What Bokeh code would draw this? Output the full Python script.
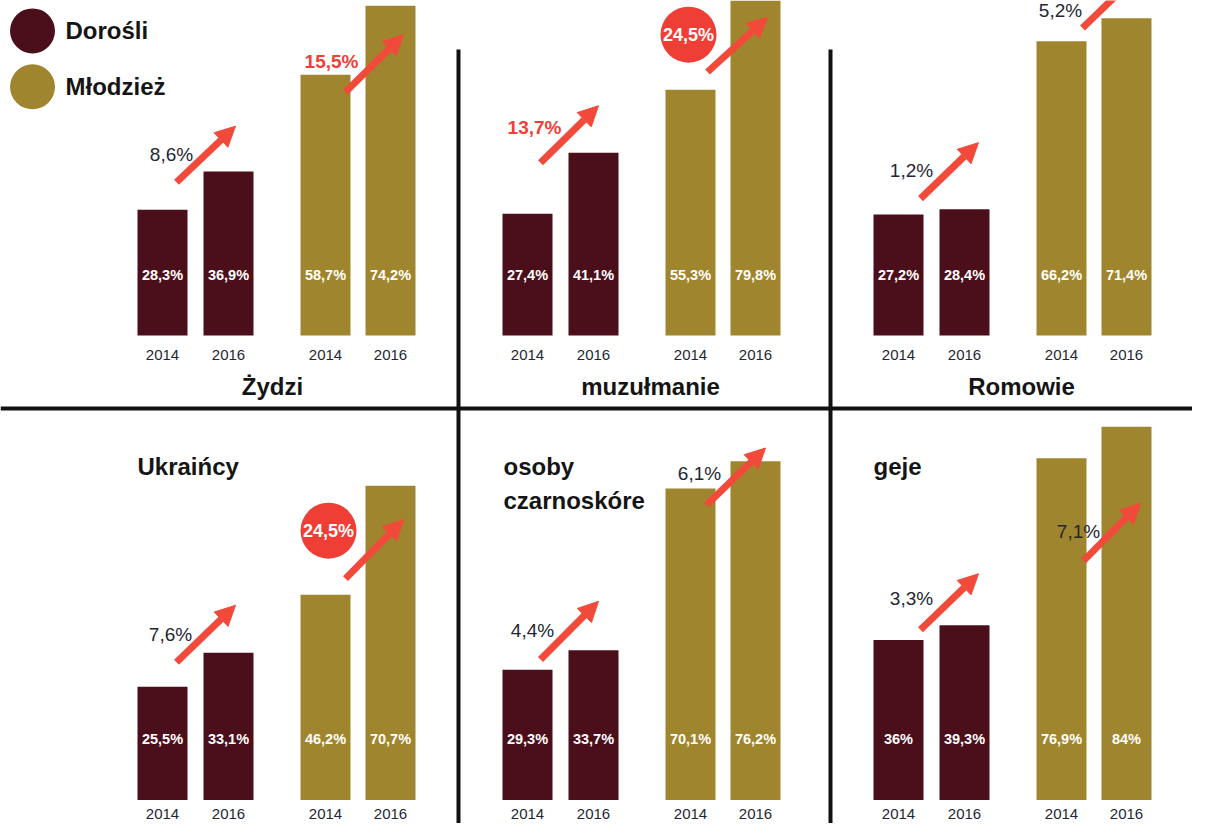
from bokeh.plotting import figure
from bokeh.models import Range1d, ColumnDataSource, Arrow, NormalHead
from bokeh.core.properties import value
from bokeh.embed import file_html
from bokeh.resources import INLINE

# ---------------- data ----------------
categories = ["Żydzi", "muzułmanie", "Romowie", "Ukraińcy", "osoby\nczarnoskóre", "geje"]
years = ["2014", "2016"]
series = ["Dorośli", "Młodzież"]
adults_2014 = [28.3, 27.4, 27.2, 25.5, 29.3, 36.0]
adults_2016 = [36.9, 41.1, 28.4, 33.1, 33.7, 39.3]
youth_2014 = [58.7, 55.3, 66.2, 46.2, 70.1, 76.9]
youth_2016 = [74.2, 79.8, 71.4, 70.7, 76.2, 84.0]
adults_change = ["8,6%", "13,7%", "1,2%", "7,6%", "4,4%", "3,3%"]
youth_change = ["15,5%", "24,5%", "5,2%", "24,5%", "6,1%", "7,1%"]

# ---------------- layout / styles ----------------
MAROON = "#4b0f1b"
GOLD = "#a0852f"
ARROW_C = "#f24a3a"
RED_TXT = "#ee3f39"
BADGE_C = "#ef3e36"
DARK = "#232733"
LINE_C = "#111111"
FONT = "Liberation Sans"

W, H = 1192, 823
PX = 4.53                     # reference pixels per percentage point
BASE_REF = 815                # reference y of bottom-row baseline


def vy(ref_y):
    return (BASE_REF - ref_y) / PX


row_base = [vy(341.5), 0.0]
col_left = [137, 502, 873]
slot_left = [0, 66, 163, 228]
BAR_W = 50
year_dy = [-4.3, -3.1]
value_dy = 13.7

# title placement per panel: (x rel, y rel, align)
title_pos = [(135, -11.4, "center"), (148, -11.4, "center"), (148, -11.4, "center"),
             (0, 75.1, "left"), (1, 75.1, "left"), (0, 75.1, "left")]
TITLE_GAP = 7.8
adult_label = [(34, 40.7), (32, 46.7), (38, 37.2), (33, 37.2), (30, 38.1), (38, 45.4)]
adult_arrow = [(39, 34.5, 98, 47.1), (38, 38.9, 96, 51.7), (47, 30.8, 105, 43.4),
               (39, 31.0, 98, 43.8), (38, 31.6, 96, 44.7), (47, 38.3, 105, 50.9)]
youth_label = [(194, 61.7), (186, 67.7), (187, 73.2), (191, 60.6), (197, 73.5), (205, 60.4)]
youth_arrow = [(208, 54.8, 266, 67.7), (205, 59.3, 265, 71.6), (209, 69.2, 267, 81.8),
               (208, 49.8, 266, 63.1), (204, 66.4, 263, 79.2), (210, 53.8, 267, 66.8)]
adult_style = ["plain", "red", "plain", "plain", "plain", "plain"]
youth_style = ["red", "badge", "plain", "badge", "plain", "plain"]

p = figure(width=W, height=H, x_range=Range1d(0, 1192), y_range=Range1d(vy(839), vy(0)),
           toolbar_location=None, output_backend="svg", min_border=0,
           x_axis_location=None, y_axis_location=None)
p.grid.visible = False
p.outline_line_color = None
p.background_fill_color = "white"
p.border_fill_color = "white"


def fmt(v):
    return f"{v:g}".replace(".", ",") + "%"


bx, bb, bt, bc, vt, vyy = [], [], [], [], [], []
yx, yy, ytxt = [], [], []
for i in range(6):
    row, col = divmod(i, 3)
    vals = [adults_2014[i], adults_2016[i], youth_2014[i], youth_2016[i]]
    cols = [MAROON, MAROON, GOLD, GOLD]
    for k in range(4):
        xc = col_left[col] + slot_left[k] + BAR_W / 2
        bx.append(xc)
        bb.append(row_base[row])
        bt.append(row_base[row] + vals[k])
        bc.append(cols[k])
        vt.append(fmt(vals[k]))
        vyy.append(row_base[row] + value_dy)
        yx.append(xc)
        yy.append(row_base[row] + year_dy[row])
        ytxt.append(years[k % 2])

bars = ColumnDataSource(dict(x=bx, bottom=bb, top=bt, color=bc, label=vt, ly=vyy))
p.vbar(x="x", width=BAR_W, bottom="bottom", top="top", fill_color="color",
       line_color=None, source=bars)
p.text(x="x", y="ly", text="label", source=bars, text_color="white",
       text_font=value(FONT), text_font_style="bold", text_font_size="14.5px",
       text_align="center", text_baseline="middle")
p.text(x=yx, y=yy, text=ytxt, text_color=DARK, text_font=value(FONT),
       text_font_size="15px", text_align="center", text_baseline="middle")

# titles
for i in range(6):
    row, col = divmod(i, 3)
    xr, yr, al = title_pos[i]
    lines = categories[i].split("\n")
    p.text(x=[col_left[col] + xr] * len(lines),
           y=[row_base[row] + yr - j * TITLE_GAP for j in range(len(lines))],
           text=lines, text_color="#151515", text_font=value(FONT),
           text_font_style="bold", text_font_size="24px", text_align=al,
           text_baseline="middle")

# change labels + arrows
ax0, ay0, ax1, ay1 = [], [], [], []
for i in range(6):
    row, col = divmod(i, 3)
    for lab, pos, arr, sty in ((adults_change[i], adult_label[i], adult_arrow[i], adult_style[i]),
                               (youth_change[i], youth_label[i], youth_arrow[i], youth_style[i])):
        lx = col_left[col] + pos[0]
        ly = row_base[row] + pos[1]
        if sty == "badge":
            p.scatter(x=[lx], y=[ly], size=56, marker="circle", fill_color=BADGE_C,
                      line_color=None)
            p.text(x=[lx], y=[ly], text=[lab], text_color="white", text_font=value(FONT),
                   text_font_style="bold", text_font_size="18px", text_align="center",
                   text_baseline="middle")
        else:
            p.text(x=[lx], y=[ly], text=[lab], text_color=RED_TXT if sty == "red" else DARK,
                   text_font=value(FONT), text_font_style="bold" if sty == "red" else "normal",
                   text_font_size="19px", text_align="center", text_baseline="middle")
        ax0.append(col_left[col] + arr[0])
        ay0.append(row_base[row] + arr[1])
        ax1.append(col_left[col] + arr[2])
        ay1.append(row_base[row] + arr[3])

arrows = ColumnDataSource(dict(x0=ax0, y0=ay0, x1=ax1, y1=ay1))
p.add_layout(Arrow(end=NormalHead(size=20, fill_color=ARROW_C, line_color=ARROW_C, line_width=1),
                   x_start="x0", y_start="y0", x_end="x1", y_end="y1", source=arrows,
                   line_color=ARROW_C, line_width=7))

# dividers
div_y = vy(416)
p.segment(x0=[0], y0=[div_y], x1=[1192], y1=[div_y], line_color=LINE_C, line_width=4)
p.segment(x0=[458, 830, 458, 830], y0=[vy(50), vy(50), div_y, div_y],
          x1=[458, 830, 458, 830], y1=[div_y, div_y, vy(839), vy(839)],
          line_color=LINE_C, line_width=4)

# legend
p.scatter(x=[32, 32], y=[vy(31), vy(88)], size=45, marker="circle",
          fill_color=[MAROON, GOLD], line_color=None)
p.text(x=[65, 65], y=[vy(31), vy(88)], text=series, text_color="#151515",
       text_font=value(FONT), text_font_style="bold", text_font_size="24px",
       text_align="left", text_baseline="middle")

open("out.html", "w").write(file_html(p, INLINE))
